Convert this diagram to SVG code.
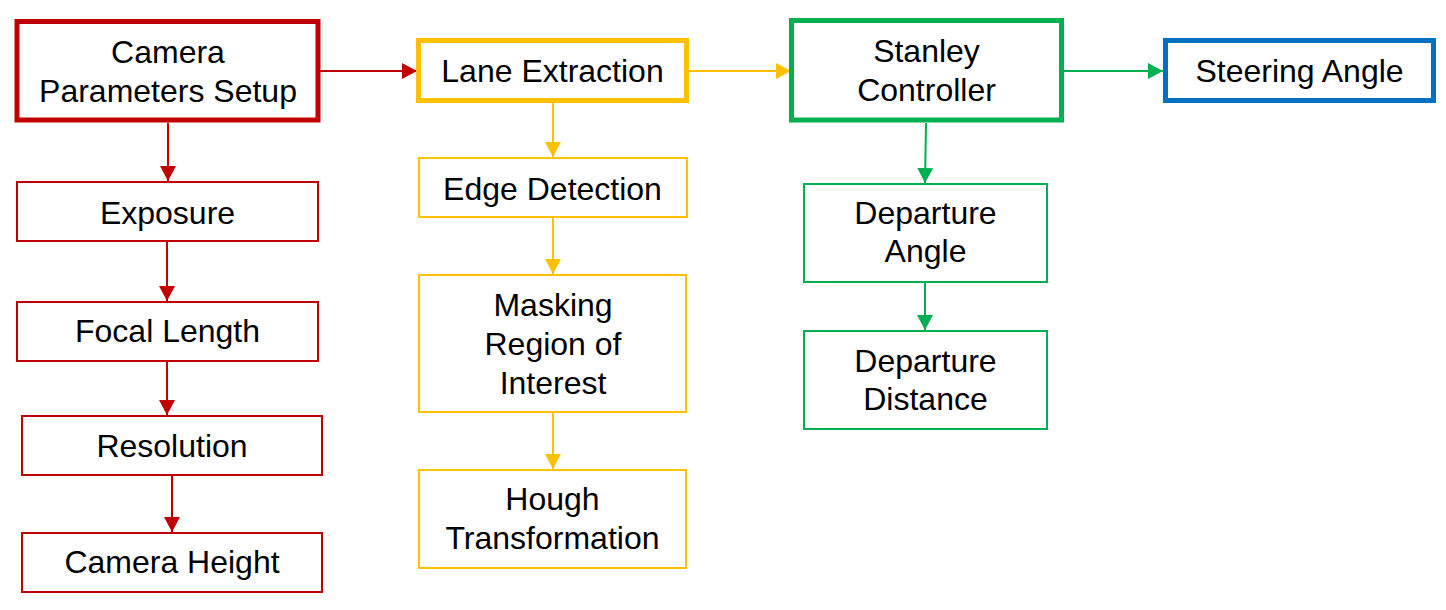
<svg xmlns="http://www.w3.org/2000/svg" width="1446" height="610" viewBox="0 0 1446 610">
<style>
text{font-family:"Liberation Sans",Arial,sans-serif;font-size:32px;fill:#000;text-anchor:middle}
rect{fill:#fff}
.r{stroke:#C00000}.y{stroke:#FFC000}.g{stroke:#00B050}.b{stroke:#0070C0}
.thick{stroke-width:5}.thin{stroke-width:2}
.c{fill:none;stroke-width:2}
</style>
<defs>
<marker id="ar" markerUnits="userSpaceOnUse" markerWidth="16" markerHeight="16" refX="15" refY="8" orient="auto"><path d="M0,0L15,8L0,16Z" fill="#C00000"/></marker>
<marker id="ay" markerUnits="userSpaceOnUse" markerWidth="16" markerHeight="16" refX="15" refY="8" orient="auto"><path d="M0,0L15,8L0,16Z" fill="#FFC000"/></marker>
<marker id="ag" markerUnits="userSpaceOnUse" markerWidth="16" markerHeight="16" refX="15" refY="8" orient="auto"><path d="M0,0L15,8L0,16Z" fill="#00B050"/></marker>
</defs>
<rect width="1446" height="610" fill="#fff"/>
<g id="connectors">
<path class="c r" d="M320,71H417" marker-end="url(#ar)"/>
<path class="c r" d="M168,123V181" marker-end="url(#ar)"/>
<path class="c r" d="M167,242V301" marker-end="url(#ar)"/>
<path class="c r" d="M167,359V415" marker-end="url(#ar)"/>
<path class="c r" d="M172,476V532" marker-end="url(#ar)"/>
<path class="c y" d="M689,71H791" marker-end="url(#ay)"/>
<path class="c y" d="M553,102V157" marker-end="url(#ay)"/>
<path class="c y" d="M553,218V274" marker-end="url(#ay)"/>
<path class="c y" d="M553,413V469" marker-end="url(#ay)"/>
<path class="c g" d="M1063,71H1163" marker-end="url(#ag)"/>
<path class="c g" d="M926,123L925,183" marker-end="url(#ag)"/>
<path class="c g" d="M925,283V330" marker-end="url(#ag)"/>
</g>
<g id="camera-setup"><rect class="r thick" x="17" y="21.5" width="301" height="98.5"/><text x="168" y="63">Camera</text><text x="168" y="102">Parameters Setup</text></g>
<g id="exposure"><rect class="r thin" x="17" y="182" width="301" height="59"/><text x="167.5" y="224">Exposure</text></g>
<g id="focal-length"><rect class="r thin" x="17" y="302" width="301" height="59"/><text x="167.5" y="342">Focal Length</text></g>
<g id="resolution"><rect class="r thin" x="22" y="416" width="300" height="59"/><text x="172" y="457">Resolution</text></g>
<g id="camera-height"><rect class="r thin" x="22" y="533" width="300" height="59"/><text x="172" y="573">Camera Height</text></g>
<g id="lane-extraction"><rect class="y thick" x="418.5" y="40.5" width="268" height="60"/><text x="552.5" y="82">Lane Extraction</text></g>
<g id="edge-detection"><rect class="y thin" x="419" y="158" width="268" height="59"/><text x="552.5" y="200">Edge Detection</text></g>
<g id="masking"><rect class="y thin" x="419" y="275" width="267" height="137"/><text x="553" y="316">Masking</text><text x="553" y="355">Region of</text><text x="553" y="393.5">Interest</text></g>
<g id="hough"><rect class="y thin" x="419" y="470" width="267" height="98"/><text x="552.5" y="510">Hough</text><text x="552.5" y="549">Transformation</text></g>
<g id="stanley"><rect class="g thick" x="791.5" y="20.5" width="270" height="99.5"/><text x="926.5" y="62">Stanley</text><text x="926.5" y="100.5">Controller</text></g>
<g id="steering-angle"><rect class="b thick" x="1165.5" y="40.5" width="268" height="60"/><text x="1299.5" y="82">Steering Angle</text></g>
<g id="departure-angle"><rect class="g thin" x="804" y="184" width="243" height="98"/><text x="925.5" y="223.5">Departure</text><text x="925.5" y="262">Angle</text></g>
<g id="departure-distance"><rect class="g thin" x="804" y="331" width="243" height="98"/><text x="925.5" y="371.5">Departure</text><text x="925.5" y="410">Distance</text></g>
</svg>
